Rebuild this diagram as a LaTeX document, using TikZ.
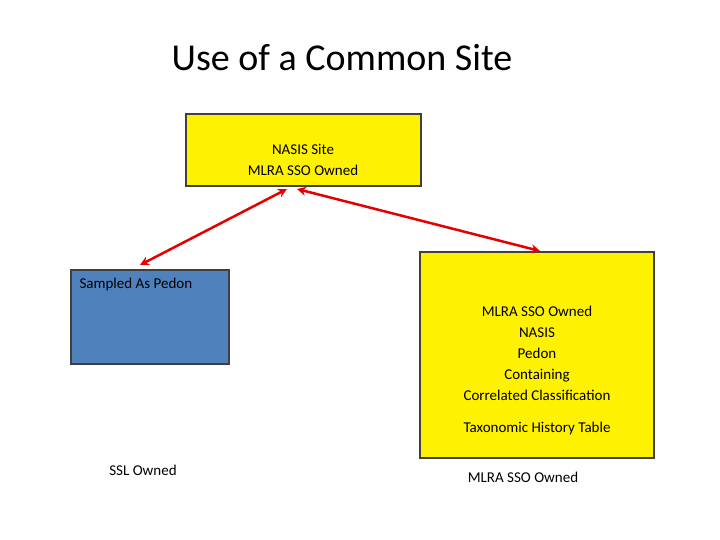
\documentclass[tikz,border=0pt]{standalone}
\usepackage{fontspec}
\setmainfont{Carlito}
\usetikzlibrary{arrows.meta}
\begin{document}
\begin{tikzpicture}[x=1pt,y=-1pt,
 box/.style={draw=black!75,line width=2pt},
 lbl/.style={font=\fontsize{15}{21}\selectfont,align=center},
 arr/.style={draw=red!90!black,line width=2.5pt,{Stealth[length=9pt,width=9pt]}-{Stealth[length=9pt,width=9pt]}}]
\useasboundingbox (0,0) rectangle (720,540);
\node[font=\fontsize{38}{44}\selectfont] (title) at (342,58) {Use of a Common Site};
\fill[yellow] (186,114) rectangle (421,186);
\draw[box] (186,114) rectangle (421,186);
\node[lbl] (site) at (303,160) {NASIS Site\\MLRA SSO Owned};
\fill[fill={rgb,255:red,79;green,129;blue,189}] (71,270) rectangle (229,364);
\draw[box] (71,270) rectangle (229,364);
\node[lbl,anchor=west] (samp) at (76,284) {Sampled As Pedon};
\fill[yellow] (420,252) rectangle (654,458);
\draw[box] (420,252) rectangle (654,458);
\node[lbl] (ped) at (537,353) {MLRA SSO Owned\\NASIS\\Pedon\\Containing\\Correlated Classification};
\node[lbl] (tax) at (537,428) {Taxonomic History Table};
\node[lbl] (ssl) at (143,470) {SSL Owned};
\node[lbl] (mlra) at (523,477) {MLRA SSO Owned};
\coordinate (a1) at (287,189);
\coordinate (a2) at (140,265);
\coordinate (b1) at (297,189);
\coordinate (b2) at (540,251);
\draw[arr] (a1) -- (a2);
\draw[arr] (b1) -- (b2);
\end{tikzpicture}
\end{document}
